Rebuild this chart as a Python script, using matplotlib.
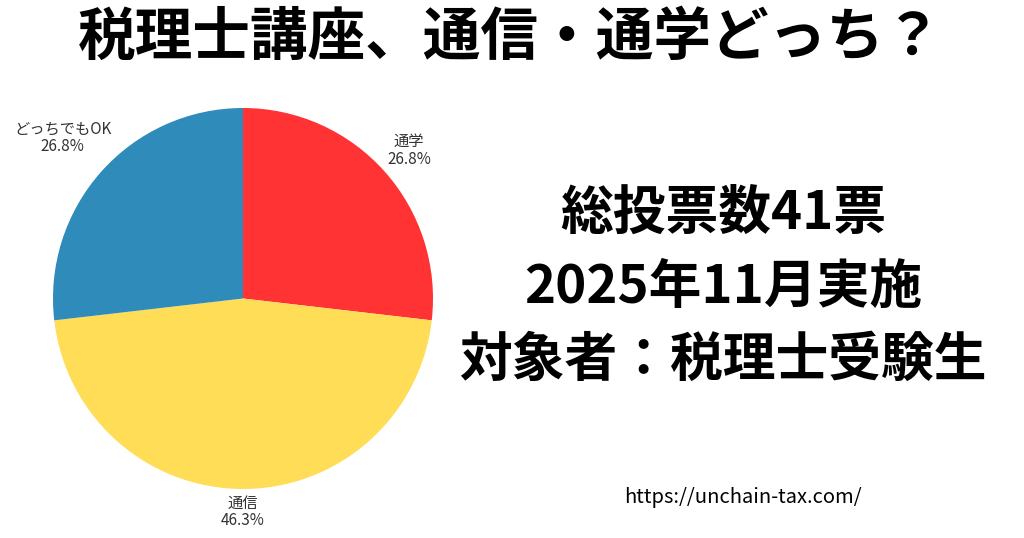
import matplotlib.pyplot as plt
import numpy as np

plt.rcParams['font.family'] = ['Noto Sans CJK JP', 'DejaVu Sans']

labels = ['通学', '通信', 'どっちでもOK']
votes = [11, 19, 11]
colors = ['#FF3333', '#FFDD57', '#2E8BBA']
label_dist = [1.17, 1.12, 1.27]

title = '税理士講座、通信・通学どっち？'
info_lines = ['総投票数41票', '2025年11月実施', '対象者：税理士受験生']
url = 'https://unchain-tax.com/'

fig = plt.figure(figsize=(10.24, 5.38), dpi=100)
fig.patch.set_facecolor('white')

ax = fig.add_axes([53 / 1024, 49 / 538, 380 / 1024, 381 / 538])
total = sum(votes)
wedges, _ = ax.pie(votes, colors=colors, startangle=90, counterclock=False,
                   radius=1, wedgeprops=dict(linewidth=0))
for w, lab, v, d in zip(wedges, labels, votes, label_dist):
    mid = np.deg2rad((w.theta1 + w.theta2) / 2)
    ax.text(d * np.cos(mid), d * np.sin(mid), f'{lab}\n{v / total * 100:.1f}%',
            ha='center', va='center', fontsize=11, color='#333333', linespacing=1.05)
ax.set_xlim(-1, 1)
ax.set_ylim(-1, 1)
ax.set_aspect('auto')
ax.axis('off')

fig.text(510 / 1024, 1 - 38 / 538, title, ha='center', va='center',
         fontsize=41.5, fontweight='bold', color='black')

for i, line in enumerate(info_lines):
    y = [213, 288, 360][i]
    fig.text(723 / 1024, 1 - y / 538, line, ha='center', va='center',
             fontsize=38, fontweight='bold', color='black')

fig.text(743 / 1024, 1 - 497 / 538, url, ha='center', va='center',
         fontsize=14.5, color='black')

fig.savefig('out.png', dpi=100, facecolor='white')
